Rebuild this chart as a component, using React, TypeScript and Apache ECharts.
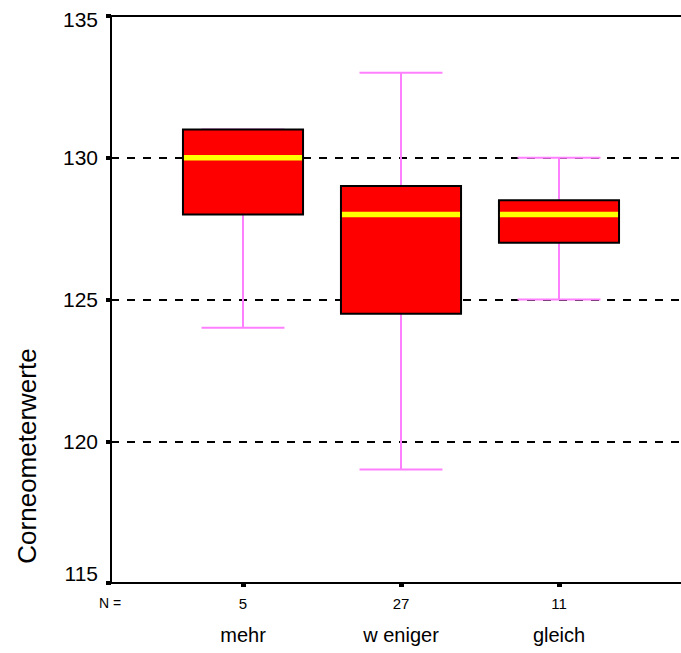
import React, { useEffect, useRef } from "react";
import * as echarts from "echarts";

const categories = ["mehr", "w eniger", "gleich"];
const nValues = [5, 27, 11];
const whiskerLow = [124, 119, 125];
const q1Values = [128, 124.5, 127];
const medianValues = [130, 128, 128];
const q3Values = [131, 129, 128.5];
const whiskerHigh = [131, 133, 130];
const yMin = 115;
const yMax = 135;
const yStep = 5;
const yTitle = "Corneometerwerte";
const nLabel = "N =";

const FONT = "'Liberation Sans', Arial, Helvetica, sans-serif";

export default function App() {
  const ref = useRef<HTMLDivElement>(null);
  useEffect(() => {
    document.body.style.margin = "0";
    if (!ref.current) return;
    const chart = echarts.init(ref.current, null, { renderer: "svg" });
    const data = categories.map((_, i) => [
      i,
      whiskerLow[i],
      q1Values[i],
      medianValues[i],
      q3Values[i],
      whiskerHigh[i],
    ]);
    const whisk = { stroke: "#ff80ff", lineWidth: 2 };
    chart.setOption({
      animation: false,
      textStyle: { fontFamily: FONT },
      grid: [
        { left: 111, right: 0, top: 16, bottom: 70 },
        { left: 164, right: 43, top: 16, bottom: 70 },
      ],
      xAxis: [
        {
          type: "value",
          gridIndex: 0,
          min: 0,
          max: 1,
          position: "bottom",
          axisLine: { show: true, lineStyle: { color: "#000", width: 2 } },
          axisTick: { show: false },
          axisLabel: { show: false },
          splitLine: { show: false },
        },
        {
          type: "value",
          gridIndex: 0,
          min: 0,
          max: 1,
          position: "top",
          axisLine: { show: true, lineStyle: { color: "#000", width: 2 } },
          axisTick: { show: false },
          axisLabel: { show: false },
          splitLine: { show: false },
        },
        {
          type: "category",
          gridIndex: 1,
          data: categories,
          boundaryGap: true,
          axisLine: { show: false },
          axisTick: {
            show: true,
            alignWithLabel: true,
            length: 4,
            lineStyle: { color: "#000", width: 5 },
          },
          axisLabel: {
            interval: 0,
            margin: 9,
            color: "#000",
            formatter: (v: string, idx: number) => `{n|${nValues[idx]}}\n{c|${v}}`,
            rich: {
              n: { fontSize: 15, lineHeight: 22, fontFamily: FONT, color: "#000" },
              c: { fontSize: 20, lineHeight: 42, fontFamily: FONT, color: "#000" },
            },
          },
          splitLine: { show: false },
        },
      ],
      yAxis: [
        {
          type: "value",
          gridIndex: 0,
          min: yMin,
          max: yMax,
          interval: yStep,
          axisLine: { show: true, lineStyle: { color: "#000", width: 2 } },
          axisTick: { show: true, length: 5, lineStyle: { color: "#000", width: 4 } },
          axisLabel: {
            margin: 13,
            color: "#000",
            fontSize: 21,
            fontFamily: FONT,
            formatter: (v: number) =>
              v === yMax ? `{top|${v}}` : v === yMin ? `{bot|${v}}` : `${v}`,
            rich: {
              top: { fontSize: 21, fontFamily: FONT, color: "#000", padding: [7, 0, 0, 0] },
              bot: { fontSize: 21, fontFamily: FONT, color: "#000", padding: [0, 0, 20, 0] },
            },
          },
          splitLine: {
            show: true,
            lineStyle: { color: "#000", width: 2, type: [8, 8] },
          },
        },
        {
          type: "value",
          gridIndex: 1,
          min: yMin,
          max: yMax,
          show: false,
          splitLine: { show: false },
        },
      ],
      graphic: [
        {
          type: "text",
          x: 27,
          y: 456,
          rotation: Math.PI / 2,
          style: {
            text: yTitle,
            fontSize: 26,
            fontFamily: FONT,
            fill: "#000",
            align: "center",
            verticalAlign: "middle",
          },
        },
        {
          type: "text",
          x: 110,
          y: 603,
          style: {
            text: nLabel,
            fontSize: 14,
            fontFamily: FONT,
            fill: "#000",
            align: "center",
            verticalAlign: "middle",
          },
        },
      ],
      series: [
        {
          type: "custom",
          xAxisIndex: 2,
          yAxisIndex: 1,
          encode: { x: 0, y: [1, 2, 3, 4, 5] },
          data,
          renderItem: (params: any, api: any) => {
            const i = api.value(0);
            const band = api.size([1, 0])[0];
            const boxW = band * 0.76;
            const capW = band * 0.525;
            const pLow = api.coord([i, api.value(1)]);
            const pQ1 = api.coord([i, api.value(2)]);
            const pMed = api.coord([i, api.value(3)]);
            const pQ3 = api.coord([i, api.value(4)]);
            const pHigh = api.coord([i, api.value(5)]);
            const cx = pLow[0];
            return {
              type: "group",
              children: [
                { type: "line", shape: { x1: cx, y1: pQ1[1], x2: cx, y2: pLow[1] }, style: whisk },
                { type: "line", shape: { x1: cx - capW / 2, y1: pLow[1], x2: cx + capW / 2, y2: pLow[1] }, style: whisk },
                { type: "line", shape: { x1: cx, y1: pQ3[1], x2: cx, y2: pHigh[1] }, style: whisk },
                { type: "line", shape: { x1: cx - capW / 2, y1: pHigh[1], x2: cx + capW / 2, y2: pHigh[1] }, style: whisk },
                {
                  type: "rect",
                  shape: { x: cx - boxW / 2, y: pQ3[1], width: boxW, height: pQ1[1] - pQ3[1] },
                  style: { fill: "#ff0000", stroke: "#000", lineWidth: 2 },
                },
                {
                  type: "rect",
                  shape: { x: cx - boxW / 2 + 1, y: pMed[1] - 2.75, width: boxW - 2, height: 5.5 },
                  style: { fill: "#ffff00" },
                },
              ],
            };
          },
        },
      ],
    });
    return () => chart.dispose();
  }, []);
  return (
    <div
      ref={ref}
      style={{ position: "absolute", left: 0, top: 0, width: 681, height: 653 }}
    />
  );
}
